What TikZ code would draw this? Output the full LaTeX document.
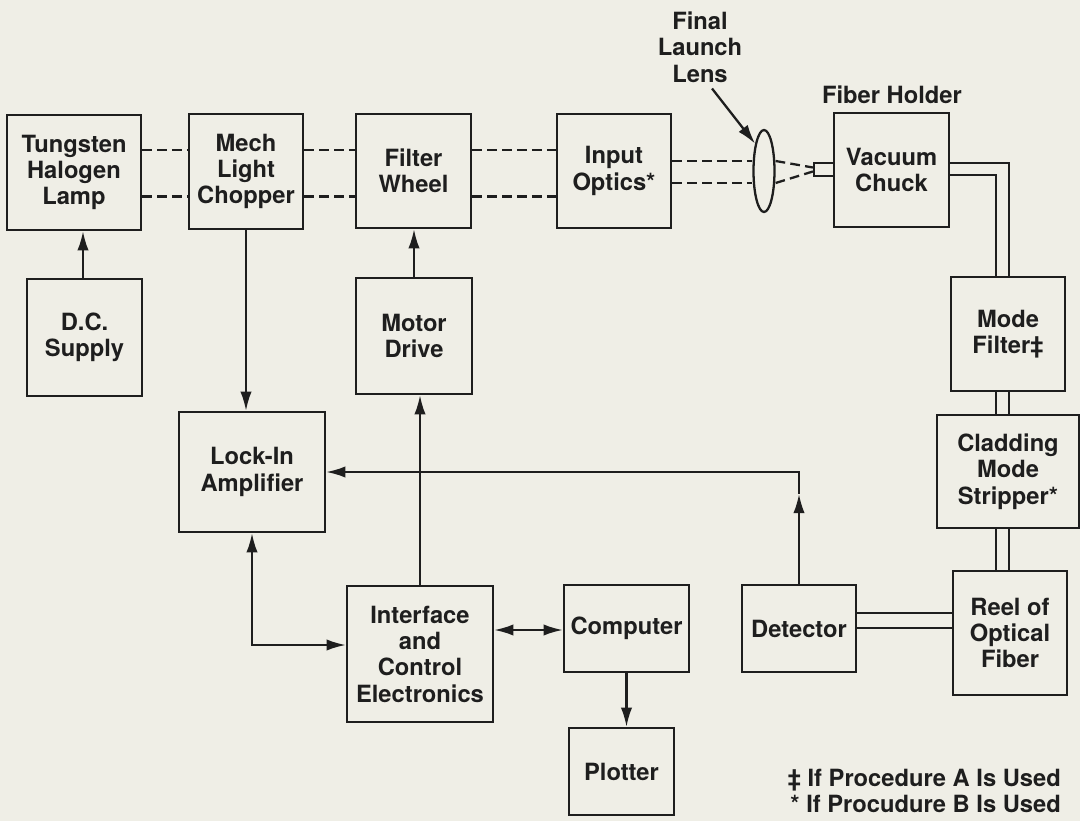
\documentclass[tikz,border=0pt]{standalone}
\usepackage{fontspec}
\setmainfont{TeX Gyre Heros}
\usetikzlibrary{arrows.meta, positioning, shapes.geometric}
\definecolor{pgbg}{HTML}{EFEEE6}
\definecolor{ink}{HTML}{1E1E1E}

\begin{document}
\begin{tikzpicture}[x=0.02cm, y=-0.02cm,
  blk/.style={draw=ink, line width=1.3pt, align=center, inner sep=0pt,
    font=\fontsize{13.5}{15}\selectfont\bfseries, text=ink},
  lbl/.style={align=center, font=\fontsize{13.5}{15}\selectfont\bfseries, text=ink},
  arr/.style={ink, line width=1.3pt, -{Latex[length=11pt,width=6.5pt]}},
  both/.style={ink, line width=1.3pt, {Latex[length=11pt,width=6.5pt]}-{Latex[length=11pt,width=6.5pt]}},
  beam/.style={ink, line width=1.3pt, dash pattern=on 5.5pt off 3pt},
  fiber/.style={ink, line width=1.3pt}]

  % page (pixel grid, y downwards)
  \fill[pgbg] (0,0) rectangle (1080,821);
  \useasboundingbox (0,0) rectangle (1080,821);

  % helper levels
  \coordinate (bu) at (0,150);   % upper beam
  \coordinate (bl) at (0,196.5); % lower beam
  \coordinate (lu) at (0,161);   % beam into lens
  \coordinate (ll) at (0,183);
  \coordinate (fu) at (0,163);   % fiber out of chuck
  \coordinate (fl) at (0,175);
  \coordinate (fa) at (996,0);   % fiber pair
  \coordinate (fb) at (1009,0);
  \coordinate (dl1) at (0,613);  % fiber into detector
  \coordinate (dl2) at (0,628);
  \coordinate (yli) at (0,645);
  \coordinate (ycm) at (0,630);

  % top row
  \node[blk, minimum width=2.68cm, minimum height=2.30cm] (lamp) at (74,172.5) {Tungsten\\Halogen\\Lamp};
  \node[blk, minimum width=2.28cm, minimum height=2.30cm] (chop) at (246,171.5) {Mech\\Light\\Chopper};
  \node[blk, minimum width=2.30cm, minimum height=2.28cm] (filt) at (413.5,171) {Filter\\Wheel};
  \node[blk, minimum width=2.28cm, minimum height=2.28cm] (inopt) at (614,171) {Input\\Optics*};
  \node[blk, minimum width=2.30cm, minimum height=2.28cm] (chuck) at (891.5,170) {Vacuum\\Chuck};

  % lens and fiber end
  \node[draw=ink, line width=1.3pt, ellipse, inner sep=0pt,
    minimum width=0.42cm, minimum height=1.64cm] (lens) at (764,171) {};
  \node[draw=ink, line width=1.3pt, inner sep=0pt,
    minimum width=0.40cm, minimum height=0.26cm] (stub) at (824,169.5) {};

  % labels
  \node[lbl] (lenslbl) at (700,47) {Final\\Launch\\Lens};
  \node[lbl] (holder) at (892,95) {Fiber Holder};

  % second row
  \node[blk, minimum width=2.30cm, minimum height=2.34cm] (dcs) at (84.5,337.5) {D.C.\\Supply};
  \node[blk, minimum width=2.32cm, minimum height=2.32cm] (motor) at (414,336) {Motor\\Drive};
  \node[blk, minimum width=2.28cm, minimum height=2.28cm] (mfilt) at (1008,334) {Mode\\Filter‡};

  % third row
  \node[blk, minimum width=2.92cm, minimum height=2.40cm] (lockin) at (252,472) {Lock-In\\Amplifier};
  \node[blk, minimum width=2.84cm, minimum height=2.26cm] (strip) at (1008,471.5) {Cladding\\Mode\\Stripper*};

  % bottom rows
  \node[blk, minimum width=2.92cm, minimum height=2.72cm] (iface) at (420,654) {Interface\\and\\Control\\Electronics};
  \node[blk, minimum width=2.50cm, minimum height=1.74cm] (comp) at (626.5,628.5) {Computer};
  \node[blk, minimum width=2.28cm, minimum height=1.74cm] (det) at (799,628.5) {Detector};
  \node[blk, minimum width=2.28cm, minimum height=2.48cm] (reel) at (1010,633) {Reel of\\Optical\\Fiber};
  \node[blk, minimum width=2.10cm, minimum height=1.74cm] (plot) at (621.5,771.5) {Plotter};

  % legend
  \node[lbl, anchor=east, align=right] (legend) at (1067,791) {‡ If Procedure A Is Used\\* If Procudure B Is Used};

  % light path
  \draw[beam] (lamp.east |- bu) -- (chop.west |- bu);
  \draw[beam] (lamp.east |- bl) -- (chop.west |- bl);
  \draw[beam] (chop.east |- bu) -- (filt.west |- bu);
  \draw[beam] (chop.east |- bl) -- (filt.west |- bl);
  \draw[beam] (filt.east |- bu) -- (inopt.west |- bu);
  \draw[beam] (filt.east |- bl) -- (inopt.west |- bl);
  \draw[beam] (inopt.east |- lu) -- (lens.west |- lu);
  \draw[beam] (inopt.east |- ll) -- (lens.west |- ll);
  \draw[beam] (lens.east |- lu) -- ([yshift=0.04cm]stub.west);
  \draw[beam] (lens.east |- ll) -- ([yshift=-0.04cm]stub.west);
  \draw[arr] ([xshift=0.24cm]lenslbl.south) -- (lens.108);

  % fiber
  \draw[fiber] (chuck.east |- fu) -| (fb |- mfilt.north);
  \draw[fiber] (chuck.east |- fl) -| (fa |- mfilt.north);
  \draw[fiber] (fa |- mfilt.south) -- (fa |- strip.north);
  \draw[fiber] (fb |- mfilt.south) -- (fb |- strip.north);
  \draw[fiber] (fa |- strip.south) -- (fa |- reel.north);
  \draw[fiber] (fb |- strip.south) -- (fb |- reel.north);
  \draw[fiber] (reel.west |- dl1) -- (det.east |- dl1);
  \draw[fiber] (reel.west |- dl2) -- (det.east |- dl2);

  % signal lines
  \draw[arr] (dcs.north -| 83,0) -- (lamp.south -| 83,0);
  \draw[arr] (chop.south) -- (chop.south |- lockin.north);
  \draw[arr] (motor.north) -- (motor.north |- filt.south);
  \draw[arr] (iface.north) -- (iface.north |- motor.south);
  \draw[arr] (det.north) -- ++(0,-90) coordinate (tip);
  \draw[arr] (tip) -- (tip |- lockin.east) -- (lockin.east);
  \draw[both] (lockin.south) |- (iface.west |- yli);
  \draw[both] (iface.east |- ycm) -- (comp.west |- ycm);
  \draw[arr] (comp.south) -- (comp.south |- plot.north);
\end{tikzpicture}
\end{document}
